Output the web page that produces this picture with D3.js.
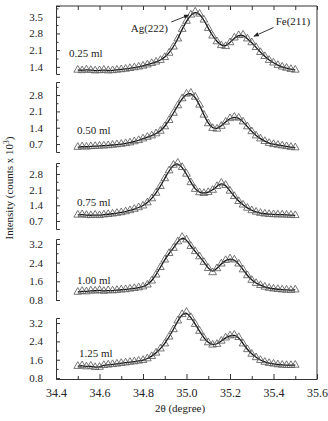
<!DOCTYPE html>
<html><head><meta charset="utf-8">
<script src="https://cdn.jsdelivr.net/npm/d3@7"></script>
<style>body{margin:0;background:#fff}svg{display:block}text{font-family:"Liberation Serif","Times New Roman",serif;fill:#222}</style>
</head><body><svg id="c" width="328" height="421"></svg>
<script>
// ---------- data ----------
const angles = [34.50,34.52,34.54,34.56,34.58,34.60,34.62,34.64,34.66,34.68,34.70,34.72,34.74,34.76,34.78,34.80,34.82,34.84,34.86,34.88,34.90,34.92,34.94,34.96,34.98,35.00,35.02,35.04,35.06,35.08,35.10,35.12,35.14,35.16,35.18,35.20,35.22,35.24,35.26,35.28,35.30,35.32,35.34,35.36,35.38,35.40,35.42,35.44,35.46,35.48,35.50];
const labels = ["0.25 ml","0.50 ml","0.75 ml","1.00 ml","1.25 ml"];
const s025 = [1.27,1.25,1.28,1.26,1.24,1.25,1.27,1.24,1.25,1.27,1.29,1.31,1.34,1.37,1.40,1.44,1.49,1.55,1.61,1.68,1.80,1.98,2.24,2.58,2.98,3.32,3.58,3.71,3.62,3.37,3.02,2.70,2.46,2.30,2.26,2.42,2.62,2.72,2.74,2.58,2.42,2.22,2.01,1.84,1.68,1.57,1.47,1.40,1.35,1.30,1.27];
const s050 = [0.57,0.59,0.58,0.60,0.61,0.62,0.63,0.64,0.66,0.68,0.70,0.73,0.76,0.81,0.86,0.93,1.00,1.06,1.15,1.26,1.45,1.72,2.03,2.35,2.65,2.85,2.89,2.72,2.38,1.95,1.58,1.38,1.35,1.47,1.65,1.80,1.86,1.82,1.66,1.45,1.24,1.06,0.93,0.82,0.74,0.69,0.66,0.63,0.60,0.57,0.55];
const s075 = [0.97,0.99,0.96,0.95,0.97,0.95,0.98,1.00,1.02,1.05,1.08,1.12,1.17,1.23,1.30,1.38,1.52,1.70,1.95,2.25,2.60,2.95,3.20,3.29,3.10,2.80,2.42,2.12,1.97,1.94,1.98,2.08,2.25,2.40,2.30,2.04,1.80,1.58,1.42,1.28,1.17,1.10,1.05,1.02,1.00,0.99,0.98,0.98,0.97,0.96,0.95];
const s100 = [1.14,1.18,1.16,1.20,1.19,1.22,1.18,1.21,1.20,1.22,1.24,1.25,1.28,1.30,1.33,1.37,1.45,1.62,1.88,2.20,2.52,2.80,3.02,3.30,3.49,3.38,3.10,2.88,2.66,2.42,2.16,1.98,2.15,2.35,2.50,2.57,2.52,2.35,2.10,1.85,1.65,1.52,1.43,1.36,1.31,1.28,1.26,1.24,1.23,1.22,1.24];
const s125 = [1.32,1.35,1.30,1.33,1.27,1.28,1.36,1.38,1.40,1.42,1.45,1.47,1.50,1.52,1.55,1.58,1.65,1.75,1.90,2.08,2.30,2.60,2.92,3.30,3.58,3.68,3.45,3.15,2.85,2.55,2.35,2.25,2.28,2.42,2.56,2.65,2.68,2.58,2.30,2.05,1.85,1.70,1.58,1.50,1.45,1.42,1.39,1.37,1.36,1.36,1.37];
const series = [s025,s050,s075,s100,s125];
const yTicks = [[1.4,2.1,2.8,3.5],[0.7,1.4,2.1,2.8],[0.7,1.4,2.1,2.8],[0.8,1.6,2.4,3.2],[0.8,1.6,2.4,3.2]];
const yMinor = [[1.75,2.45,3.15,3.85],[1.05,1.75,2.45,3.15],[1.05,1.75,2.45,3.15],[1.2,2.0,2.8],[1.2,2.0,2.8]];
const yDomains = [[1.1,3.95],[0.36,3.36],[0.34,3.29],[0.8,3.41],[0.76,3.42]];
const xTicks = [34.4,34.6,34.8,35.0,35.2,35.4,35.6];
const xMinor = [34.5,34.7,34.9,35.1,35.3,35.5];

// ---------- layout ----------
const L = 56, R = 317, T = 6, B = 379;
const panelPx = [[74,6],[152,82],[229,163],[300,239],[379,318]];
const svg = d3.select("#c");
const x = d3.scaleLinear().domain([34.4,35.6]).range([L,R]);
const axisColor = "#333";

// frame: top and right
svg.append("line").attr("x1",L).attr("x2",R).attr("y1",T).attr("y2",T).attr("stroke",axisColor);
svg.append("line").attr("x1",R).attr("x2",R).attr("y1",T).attr("y2",B).attr("stroke",axisColor);

// top ticks
const topAx = svg.append("g").attr("transform",`translate(0,${T})`)
  .call(d3.axisTop(x).tickValues(d3.range(34.4,35.61,0.1).map(v=>+v.toFixed(1))).tickSize(-4).tickFormat(""));
topAx.select(".domain").remove();
topAx.selectAll("line").attr("stroke",axisColor);

// bottom axis
const botAx = svg.append("g").attr("transform",`translate(0,${B})`)
  .call(d3.axisBottom(x).tickValues(xTicks).tickSize(-5).tickSizeOuter(0).tickPadding(9).tickFormat(d3.format(".1f")));
botAx.select(".domain").attr("stroke",axisColor);
botAx.selectAll("line").attr("stroke",axisColor);
botAx.selectAll("text").attr("font-size",12).attr("font-family","Liberation Serif").attr("fill","#222");
const botMin = svg.append("g").attr("transform",`translate(0,${B})`)
  .call(d3.axisBottom(x).tickValues(xMinor).tickSize(-3).tickFormat(""));
botMin.select(".domain").remove();
botMin.selectAll("line").attr("stroke",axisColor);

const sym = d3.symbol().type(d3.symbolTriangle).size(26);

series.forEach((vals,i)=>{
  const y = d3.scaleLinear().domain(yDomains[i]).range(panelPx[i]);
  const g = svg.append("g");
  const ax = g.append("g").attr("transform",`translate(${L},0)`)
    .call(d3.axisLeft(y).tickValues(yTicks[i]).tickSize(-4).tickSizeOuter(-4).tickPadding(13).tickFormat(d3.format(".1f")));
  ax.select(".domain").attr("stroke",axisColor);
  ax.selectAll("line").attr("stroke",axisColor);
  ax.selectAll("text").attr("font-size",11).attr("font-family","Liberation Serif").attr("fill","#222");
  const mn = g.append("g").attr("transform",`translate(${L},0)`)
    .call(d3.axisLeft(y).tickValues(yMinor[i].filter(v=>v<=yDomains[i][1])).tickSize(-2.5).tickFormat(""));
  mn.select(".domain").remove();
  mn.selectAll("line").attr("stroke",axisColor);

  const pts = angles.map((a,k)=>[a,vals[k]]);
  g.append("path").datum(pts)
    .attr("d", d3.line().x(d=>x(d[0])).y(d=>y(d[1])).curve(d3.curveBasis))
    .attr("fill","none").attr("stroke","#111").attr("stroke-width",1.3);
  g.selectAll(".m").data(pts).join("path")
    .attr("transform",d=>`translate(${x(d[0])},${y(d[1])})`)
    .attr("d",sym).attr("fill","none").attr("stroke","#555").attr("stroke-width",0.8);

  const lx = [69,77,77,77,79][i];
  const ly = [57,134,206,284,357][i];
  g.append("text").attr("x",lx).attr("y",ly).attr("font-size",11).text(labels[i]);

  if(i===0){
    const defs = svg.append("defs");
    defs.append("marker").attr("id","ah").attr("viewBox","0 0 10 10").attr("refX",9).attr("refY",5)
      .attr("markerWidth",6).attr("markerHeight",6).attr("orient","auto")
      .append("path").attr("d","M0,1 L10,5 L0,9 Z").attr("fill","#222");
    g.append("text").attr("x",x(34.915)).attr("y",y(2.84)).attr("text-anchor","end").attr("font-size",11).text("Ag(222)");
    g.append("line").attr("x1",x(34.93)).attr("y1",y(3.28)).attr("x2",x(35.01)).attr("y2",y(3.57))
      .attr("stroke","#222").attr("stroke-width",0.9).attr("marker-end","url(#ah)");
    g.append("text").attr("x",x(35.41)).attr("y",y(3.15)).attr("font-size",11).text("Fe(211)");
    g.append("line").attr("x1",x(35.40)).attr("y1",y(3.05)).attr("x2",x(35.31)).attr("y2",y(2.68))
      .attr("stroke","#222").attr("stroke-width",0.9).attr("marker-end","url(#ah)");
  }
});

// axis titles
const yt = svg.append("text").attr("transform","translate(13,188) rotate(-90)").attr("text-anchor","middle").attr("font-size",11);
yt.append("tspan").text("Intensity (counts x 10");
yt.append("tspan").attr("font-size",7.5).attr("dy",-4).text("3");
yt.append("tspan").attr("dy",4).text(")");
svg.append("text").attr("x",180).attr("y",412).attr("text-anchor","middle").attr("font-size",11).text("2θ (degree)");
</script></body></html>
